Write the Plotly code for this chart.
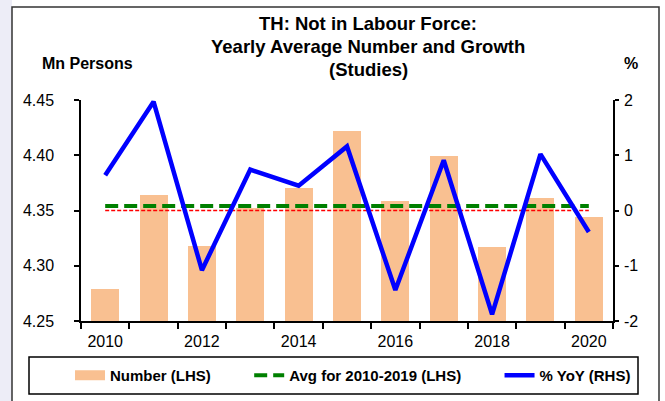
import plotly.graph_objects as go

# ---- data ----
years = [2010, 2011, 2012, 2013, 2014, 2015, 2016, 2017, 2018, 2019, 2020]
number_mn = [4.279, 4.364, 4.318, 4.352, 4.3705, 4.422, 4.3585, 4.399, 4.317, 4.3615, 4.344]
yoy_pct = [0.64, 1.97, -1.08, 0.74, 0.45, 1.16, -1.44, 0.91, -1.88, 1.02, -0.39]
avg_2010_2019 = sum(number_mn[:10]) / 10
x_tick_labels = [2010, 2012, 2014, 2016, 2018, 2020]
y2_tick_vals = [-2, -1, 0, 1, 2]
y2_tick_text = ["-2", "-1", "0", "1", "2"]
title_lines = ["TH: Not in Labour Force:", "Yearly Average Number and Growth", "(Studies)"]

FONT = "Liberation Sans, Arial, sans-serif"
W, H = 665, 401
L, R, T, B = 81, 52, 100, 80
PW, PH = W - L - R, H - T - B
NB = "\u00a0"


def px_x(p):
    return (p - L) / PW


def px_y(p):
    return (H - B - p) / PH


fig = go.Figure()

fig.add_trace(go.Bar(
    x=years, y=number_mn, width=0.58,
    marker=dict(color="#f9c091", line=dict(width=0)),
    name="Number (LHS)", showlegend=False, yaxis="y"))

fig.add_trace(go.Scatter(
    x=[years[0], years[-1]], y=[0, 0], yaxis="y2", mode="lines",
    line=dict(color="#ff0000", width=1.5, dash="4px,2px"),
    showlegend=False, hoverinfo="skip"))

# legend proxy for bars (thick swatch as in the reference)
fig.add_trace(go.Scatter(
    x=[None], y=[None], mode="lines", name="Number (LHS)" + NB * 8,
    line=dict(color="#f9c091", width=10)))

fig.add_trace(go.Scatter(
    x=[years[0], years[-1]], y=[avg_2010_2019, avg_2010_2019], mode="lines",
    name="Avg for 2010-2019 (LHS)" + NB * 8,
    line=dict(color="#008000", width=4, dash="13px,6px"), yaxis="y"))

fig.add_trace(go.Scatter(
    x=years, y=yoy_pct, mode="lines", name="% YoY (RHS)",
    line=dict(color="#0000ff", width=4.5), yaxis="y2"))

axis_common = dict(showgrid=False, zeroline=False, showline=True,
                   linecolor="#000000", linewidth=1.5,
                   tickfont=dict(family=FONT, size=16, color="#000000"))

title_y = [24, 47, 69]
annotations = [
    dict(text=t, xref="paper", yref="paper", x=px_x(368), y=px_y(yy),
         xanchor="center", yanchor="middle", showarrow=False,
         font=dict(family=FONT, size=18.5, color="#000000", weight="bold"))
    for t, yy in zip(title_lines, title_y)
]
annotations += [
    dict(text="Mn Persons", xref="paper", yref="paper", x=px_x(40), y=px_y(64),
         xanchor="left", yanchor="middle", showarrow=False,
         font=dict(family=FONT, size=16, color="#000000", weight="bold")),
    dict(text="%", xref="paper", yref="paper", x=px_x(631), y=px_y(64),
         xanchor="center", yanchor="middle", showarrow=False,
         font=dict(family=FONT, size=16, color="#000000", weight="bold")),
]

fig.update_layout(
    width=W, height=H, autosize=False,
    margin=dict(l=L, r=R, t=T, b=B, pad=0, autoexpand=False),
    paper_bgcolor="#ffffff", plot_bgcolor="rgba(0,0,0,0)",
    font=dict(family=FONT, color="#000000"),
    bargap=0,
    xaxis=dict(range=[2009.5, 2020.5], tickmode="array", tickvals=x_tick_labels,
               ticktext=[str(v) for v in x_tick_labels], ticks="",
               ticklabelstandoff=5,
               minor=dict(tickmode="linear", tick0=2009.5, dtick=1, ticks="outside",
                          ticklen=6, tickwidth=1.5, tickcolor="#000000"),
               **axis_common),
    yaxis=dict(range=[4.25, 4.45], dtick=0.05, tick0=4.25, tickformat=".2f",
               ticks="outside", ticklen=5, tickwidth=1.5, tickcolor="#000000",
               ticklabelstandoff=17, **axis_common),
    yaxis2=dict(range=[-2, 2], tickmode="array", tickvals=y2_tick_vals,
                ticktext=y2_tick_text, overlaying="y", side="right",
                anchor="x", ticks="outside", ticklen=4, tickwidth=1.5,
                tickcolor="#000000", ticklabelstandoff=2, **axis_common),
    legend=dict(orientation="h", xref="paper", yref="paper",
                x=px_x(70), xanchor="left", y=px_y(375.5), yanchor="middle",
                borderwidth=0, bgcolor="rgba(0,0,0,0)",
                font=dict(family=FONT, size=15, color="#000000", weight="bold"),
                traceorder="normal"),
    shapes=[
        dict(type="rect", xref="paper", yref="paper", layer="below",
             x0=px_x(0), x1=px_x(12), y0=px_y(H + 5), y1=px_y(-5),
             fillcolor="#ededf7", line=dict(width=0)),
        dict(type="rect", xref="paper", yref="paper", layer="below",
             x0=px_x(12), x1=px_x(659), y0=px_y(H + 5), y1=px_y(7),
             fillcolor="rgba(0,0,0,0)", line=dict(color="#333333", width=1.5)),
        # legend box
        dict(type="rect", xref="paper", yref="paper", layer="below",
             x0=px_x(29), x1=px_x(638), y0=px_y(394), y1=px_y(357),
             fillcolor="#ffffff", line=dict(color="#000000", width=1.5)),
    ],
    annotations=annotations,
)

fig.write_html(
    "out.html",
    config={"displayModeBar": False},
    post_script="document.body.style.margin='0';document.body.style.overflow='hidden';",
)
